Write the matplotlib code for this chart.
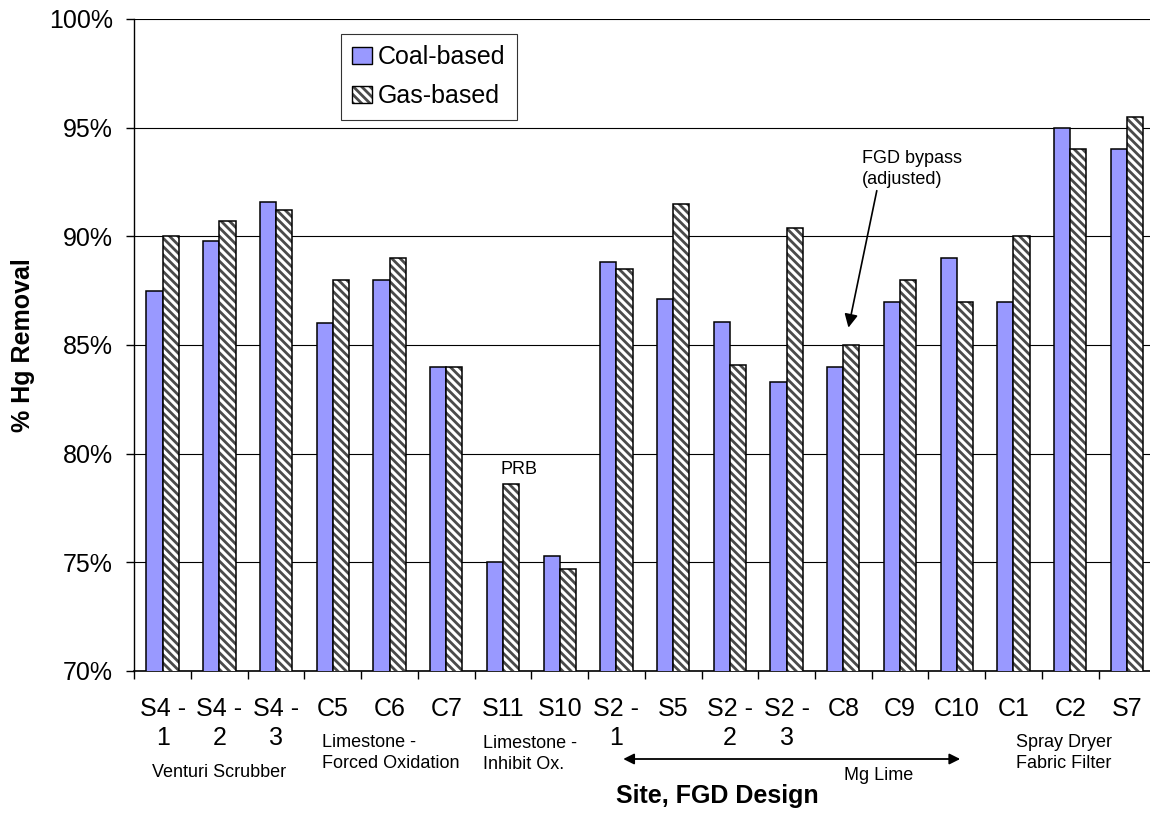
import matplotlib
matplotlib.use('Agg')
import matplotlib.pyplot as plt
from matplotlib.patches import Patch
import numpy as np

plt.rcParams['font.family'] = ['Liberation Sans', 'DejaVu Sans']
plt.rcParams['hatch.linewidth'] = 2.0

sites = ["S4 -\n1", "S4 -\n2", "S4 -\n3", "C5", "C6", "C7", "S11", "S10",
         "S2 -\n1", "S5", "S2 -\n2", "S2 -\n3", "C8", "C9", "C10", "C1", "C2", "S7"]
coal = [87.5, 89.8, 91.6, 86.0, 88.0, 84.0, 75.0, 75.3, 88.8, 87.1,
        86.05, 83.3, 84.0, 87.0, 89.0, 87.0, 95.0, 94.0]
gas = [90.0, 90.7, 91.2, 88.0, 89.0, 84.0, 78.6, 74.7, 88.5, 91.5,
       84.1, 90.4, 85.0, 88.0, 87.0, 90.0, 94.0, 95.5]
yticks = [70, 75, 80, 85, 90, 95, 100]

COAL = '#9999ff'
HATCH = '\\\\\\\\'
HATCH_COL = '#4a4a4a'

fig = plt.figure(figsize=(11.5, 8.14), dpi=100)
fig.patch.set_facecolor('white')
ax = fig.add_axes([134.3 / 1150, 143 / 814, 1021 / 1150, 652 / 814])

x = np.arange(len(sites))
w = 0.285
ax.bar(x - w / 2, coal, w, color=COAL, edgecolor='black', linewidth=1.1, zorder=3)
# hatch colour follows edgecolor, so draw the stripes and the black outline separately
ax.bar(x + w / 2, gas, w, color='white', edgecolor=HATCH_COL, linewidth=0,
       hatch=HATCH, zorder=3)
ax.bar(x + w / 2, gas, w, fill=False, edgecolor='black', linewidth=1.1, zorder=4)

ax.set_xlim(-0.5, len(sites) - 0.5)
ax.set_ylim(70, 100)
ax.set_yticks(yticks)
ax.set_yticklabels([f"{v}%" for v in yticks], fontsize=18)
ax.yaxis.grid(True, color='black', linewidth=0.8)
ax.set_axisbelow(True)

# boundary ticks between sites, labels sit on minor ticks at the centres
ax.set_xticks(np.arange(len(sites) + 1) - 0.5)
ax.set_xticklabels([])
ax.set_xticks(x, minor=True)
ax.set_xticklabels(sites, minor=True, fontsize=18)
for t in ax.get_xticklabels(minor=True):
    t.set_linespacing(1.3)
ax.tick_params(axis='x', which='major', length=6, width=1, direction='out')
ax.tick_params(axis='x', which='minor', length=0, pad=18.5)
ax.tick_params(axis='y', length=6, width=1, direction='out', pad=9.5)

for s in ['top', 'right']:
    ax.spines[s].set_visible(False)
ax.spines['left'].set_linewidth(1.0)
ax.spines['bottom'].set_linewidth(1.2)

# legend
coal_h = Patch(facecolor=COAL, edgecolor='black', linewidth=1.0)
gas_fill = Patch(facecolor='white', edgecolor=HATCH_COL, linewidth=0, hatch=HATCH)
gas_edge = Patch(fill=False, edgecolor='black', linewidth=1.0)
leg = ax.legend([coal_h, (gas_fill, gas_edge)], ['Coal-based', 'Gas-based'],
                loc='upper left', bbox_to_anchor=(340.7 / 1150, 1 - 34 / 814),
                bbox_transform=fig.transFigure, fontsize=18, fancybox=False,
                handlelength=0.8, handleheight=0.7, handletextpad=0.25,
                borderpad=0.45, labelspacing=0.6, borderaxespad=0)
leg.get_frame().set_edgecolor('black')
leg.get_frame().set_linewidth(0.8)

# notes on the bars
ax.text(6.285, 79.06, "PRB", ha='center', va='baseline', fontsize=13)
ax.text(12.33, 93.95, "FGD bypass\n(adjusted)", ha='left', va='top', fontsize=13,
        linespacing=1.3)
ax.annotate('', xy=(12.09, 85.8), xytext=(12.59, 92.1),
            arrowprops=dict(arrowstyle='-|>', color='black', lw=1.2,
                            mutation_scale=20, shrinkA=0, shrinkB=0))

# FGD design groups under the site labels
tr = ax.get_xaxis_transform()
def ax_y(ypx):
    return (671 - ypx) / 652

ax.text(1, ax_y(777), "Venturi Scrubber", transform=tr, ha='center',
        va='baseline', fontsize=13)
ax.text(2.81, ax_y(734), "Limestone -\nForced Oxidation", transform=tr,
        ha='left', va='top', fontsize=13, linespacing=1.3)
ax.text(5.655, ax_y(735), "Limestone -\nInhibit Ox.", transform=tr,
        ha='left', va='top', fontsize=13, linespacing=1.3)
ax.text(15.05, ax_y(734), "Spray Dryer\nFabric Filter", transform=tr,
        ha='left', va='top', fontsize=13, linespacing=1.3)
ax.annotate('', xy=(8.12, ax_y(759)), xytext=(14.06, ax_y(759)),
            xycoords=tr, textcoords=tr, annotation_clip=False,
            arrowprops=dict(arrowstyle='<|-|>', color='black', lw=1.3,
                            mutation_scale=16, shrinkA=0, shrinkB=0))
ax.text(12.63, ax_y(780), "Mg Lime", transform=tr, ha='center',
        va='baseline', fontsize=13)

fig.text(23 / 1150, 1 - 345 / 814, "% Hg Removal", rotation=90, ha='center',
         va='center', fontsize=18, fontweight='bold')
fig.text(717 / 1150, 1 - 803 / 814, "Site, FGD Design", ha='center',
         va='baseline', fontsize=18, fontweight='bold')

fig.savefig("out.png", dpi=100, facecolor='white')
